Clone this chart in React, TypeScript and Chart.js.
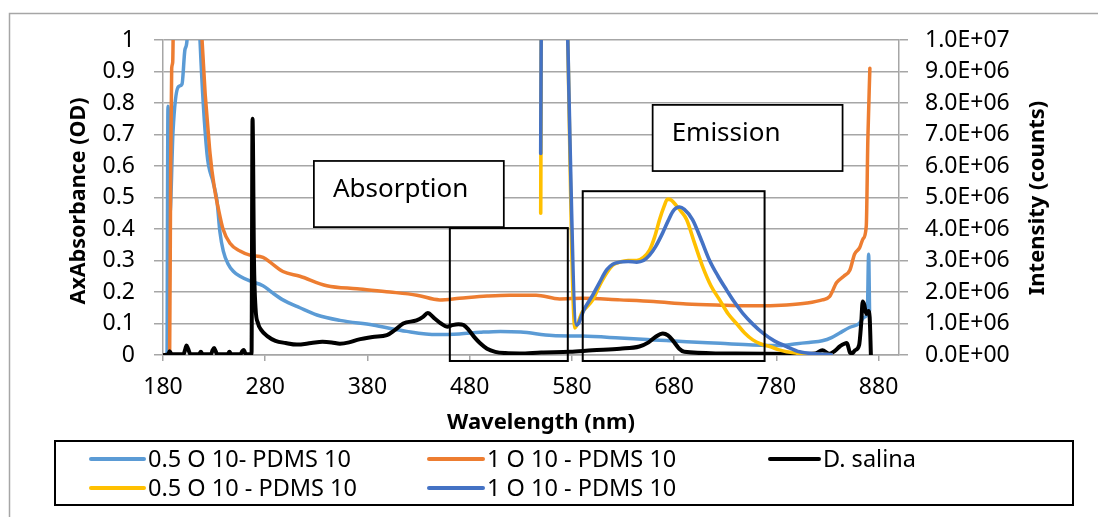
import React, { useEffect, useRef } from 'react';
import { Chart, registerables } from 'chart.js';

Chart.register(...registerables);

// ---------- data ----------
const xTicks = [180, 280, 380, 480, 580, 680, 780, 880];

// 0.5 O 10- PDMS 10 (absorbance, OD)
const absLowWl = [184, 184.9, 186.8, 189.8, 194.7, 198.6, 201.5, 203.5, 206, 213, 216.2, 223, 228.9, 232.8, 235.7, 239, 243.5, 249, 255.3, 265, 277.8, 286, 297.3, 313.9, 330.6, 353, 385.3, 418.5, 447.9, 470, 490, 510, 530, 561, 590, 627, 660, 692, 725, 757, 783, 800, 812, 825, 834, 842, 852, 861, 866, 869, 870.3, 871.2];
const absLowOD = [0, 0.79, 0.45, 0.71, 0.85, 0.86, 0.97, 1.0, 1.3, 1.3, 1.0, 0.64, 0.55, 0.49, 0.39, 0.33, 0.29, 0.265, 0.25, 0.235, 0.22, 0.2, 0.175, 0.15, 0.127, 0.11, 0.095, 0.075, 0.065, 0.067, 0.072, 0.075, 0.073, 0.062, 0.06, 0.054, 0.048, 0.042, 0.037, 0.032, 0.03, 0.036, 0.04, 0.045, 0.055, 0.07, 0.088, 0.1, 0.12, 0.133, 0.32, 0.14];

// 1 O 10 - PDMS 10 (absorbance, OD)
const absHighWl = [180, 186.5, 187.5, 188.5, 189.5, 191, 215, 218.2, 226, 230.8, 233.8, 238.7, 245.5, 255.3, 265, 277.8, 286.6, 297.3, 313.9, 340.3, 369.7, 402, 428.3, 450.8, 470, 497, 519, 545, 568, 590, 627, 660, 692, 730, 757, 790, 810, 825, 832, 839, 846, 852, 856.5, 861.4, 865, 868, 869.5, 871.5];
const absHighOD = [0, 0, 0.6, 0.91, 0.93, 1.3, 1.3, 1.0, 0.64, 0.52, 0.47, 0.4, 0.355, 0.33, 0.317, 0.31, 0.29, 0.265, 0.25, 0.22, 0.21, 0.2, 0.19, 0.175, 0.18, 0.187, 0.19, 0.19, 0.178, 0.18, 0.175, 0.17, 0.162, 0.158, 0.156, 0.159, 0.165, 0.175, 0.185, 0.23, 0.25, 0.27, 0.32, 0.34, 0.37, 0.41, 0.68, 0.91];

// D. salina (absorbance, OD)
const salinaWl = [181, 185, 186.5, 188, 190, 200, 201.5, 203, 204.5, 207, 215, 217, 219, 227, 228.5, 230, 231.5, 233, 243, 245, 247, 256, 257.5, 259, 261, 266.6, 267.6, 269, 270.5, 273, 276, 282, 290, 300, 311, 325, 336, 345, 353, 362, 370, 385, 399, 407, 415, 428, 434, 439, 445, 452, 458, 463, 469, 474, 479, 485, 490, 497, 505, 515, 529, 550, 578, 600, 627, 646, 655, 662, 669, 674, 679, 685, 690, 725, 800, 818, 825, 832, 837, 842, 849, 852, 854, 857, 861, 863, 864.5, 866, 868, 870, 871.3, 872.5];
const salinaOD = [0, 0.002, 0.012, 0.004, 0.002, 0.002, 0.015, 0.03, 0.02, 0.002, 0.002, 0.01, 0.002, 0.003, 0.015, 0.022, 0.012, 0.002, 0.002, 0.01, 0.002, 0.003, 0.012, 0.016, 0.002, 0.002, 0.75, 0.3, 0.15, 0.1, 0.08, 0.06, 0.045, 0.038, 0.033, 0.038, 0.042, 0.04, 0.036, 0.04, 0.048, 0.057, 0.063, 0.08, 0.1, 0.11, 0.12, 0.133, 0.118, 0.1, 0.09, 0.095, 0.098, 0.095, 0.08, 0.055, 0.038, 0.02, 0.01, 0.006, 0.005, 0.008, 0.01, 0.015, 0.02, 0.027, 0.04, 0.058, 0.068, 0.062, 0.045, 0.02, 0.01, 0.005, 0.003, 0.005, 0.015, 0.004, 0.012, 0.027, 0.038, 0.008, 0.005, 0.015, 0.032, 0.1, 0.17, 0.16, 0.13, 0.14, 0.12, 0];

// 0.5 O 10 - PDMS 10 (emission, counts)
const emLowWl = [549.5, 550.5, 574.5, 576, 583, 590, 600.4, 607, 614, 620, 626.8, 635, 643.4, 650, 656, 661, 665.8, 670, 673.6, 677, 682, 687, 692.2, 700, 708, 716, 724.5, 733, 741, 749, 757, 765, 773.5, 782, 790, 800, 815, 834];
const emLowCounts = [4.5e6, 13e6, 13e6, 10e6, 0.86e6, 1.35e6, 1.75e6, 2.2e6, 2.6e6, 2.85e6, 2.95e6, 3.0e6, 3.0e6, 3.1e6, 3.33e6, 3.75e6, 4.3e6, 4.7e6, 4.95e6, 4.92e6, 4.75e6, 4.55e6, 4.3e6, 3.55e6, 2.8e6, 2.2e6, 1.75e6, 1.3e6, 1.0e6, 0.7e6, 0.48e6, 0.35e6, 0.27e6, 0.17e6, 0.1e6, 0.06e6, 0.03e6, 0.01e6];

// 1 O 10 - PDMS 10 (emission, counts)
const emHighWl = [549.5, 550.5, 574.5, 576, 584.7, 592, 600.4, 607, 614, 620, 626.8, 635, 643.4, 650, 656, 662, 668.7, 674, 678.6, 682, 685.4, 690, 698, 706, 714.7, 723, 731.4, 739, 747, 757, 766.6, 778, 790, 802.7, 818, 834];
const emHighCounts = [6.4e6, 13e6, 13e6, 10e6, 0.95e6, 1.45e6, 1.9e6, 2.3e6, 2.7e6, 2.88e6, 2.95e6, 2.97e6, 2.95e6, 3.0e6, 3.17e6, 3.45e6, 3.87e6, 4.25e6, 4.55e6, 4.67e6, 4.7e6, 4.62e6, 4.3e6, 3.7e6, 3.0e6, 2.5e6, 2.06e6, 1.68e6, 1.33e6, 0.98e6, 0.7e6, 0.45e6, 0.27e6, 0.1e6, 0.04e6, 0.01e6];

const seriesLabels = ['0.5 O 10- PDMS 10', '1 O 10 - PDMS 10', 'D. salina', '0.5 O 10 - PDMS 10', '1 O 10 - PDMS 10'];

// annotation boxes in data coordinates: [x0, x1, y0(OD), y1(OD)]
const absorptionLabelBox = [327.6, 513.4, 0.406, 0.616];
const emissionLabelBox = [659, 844.8, 0.584, 0.794];
const absorptionFrame = [460.6, 576, -0.019, 0.403];
const emissionFrame = [590.6, 768.5, -0.019, 0.52];
const annotationTexts = ['Absorption', 'Emission'];

// ---------- styling ----------
const GRID = '#a6a6a6';
const COLORS = ['#5B9BD5', '#ED7D31', '#000000', '#FFC000', '#4472C4'];
const FONT = "'Noto Sans', sans-serif";

function pts(xs: number[], ys: number[]) {
  return xs.map((x, i) => ({ x, y: ys[i] }));
}

function sci(v: number) {
  const [m, e] = v.toExponential(1).split('e');
  const n = parseInt(e, 10);
  return `${m.toUpperCase()}E${n < 0 ? '-' : '+'}${String(Math.abs(n)).padStart(2, '0')}`;
}

const decorPlugin = {
  id: 'decor',
  afterDraw(chart: any) {
    const ctx: CanvasRenderingContext2D = chart.ctx;
    const xs = chart.scales.x;
    const ys = chart.scales.y;
    const W = chart.width;
    const H = chart.height;
    ctx.save();

    // outer chart border (partially visible)
    ctx.strokeStyle = GRID;
    ctx.lineWidth = 1.5;
    ctx.beginPath();
    ctx.moveTo(9.5, H);
    ctx.lineTo(9.5, 13.5);
    ctx.lineTo(W, 13.5);
    ctx.stroke();

    const rectOf = (b: number[]) => {
      const l = xs.getPixelForValue(b[0]);
      const r = xs.getPixelForValue(b[1]);
      const t = ys.getPixelForValue(b[3]);
      const bt = ys.getPixelForValue(b[2]);
      return [l, t, r - l, bt - t];
    };

    // frames (transparent)
    ctx.strokeStyle = '#000';
    ctx.lineWidth = 2;
    for (const f of [absorptionFrame, emissionFrame]) {
      const [l, t, w, h] = rectOf(f);
      ctx.strokeRect(l, t, w, h);
    }

    // label boxes
    const boxes = [absorptionLabelBox, emissionLabelBox];
    ctx.font = `26px ${FONT}`;
    ctx.textBaseline = 'middle';
    ctx.textAlign = 'left';
    boxes.forEach((b, i) => {
      const [l, t, w, h] = rectOf(b);
      ctx.fillStyle = '#fff';
      ctx.fillRect(l, t, w, h);
      ctx.lineWidth = 1.75;
      ctx.strokeStyle = '#000';
      ctx.strokeRect(l, t, w, h);
      ctx.fillStyle = '#000';
      ctx.fillText(annotationTexts[i], l + 19, t + 29);
    });

    // axis titles
    ctx.fillStyle = '#000';
    ctx.textAlign = 'center';
    ctx.textBaseline = 'middle';
    ctx.font = `bold 22px ${FONT}`;
    ctx.fillText('Wavelength (nm)', 541, 423);

    ctx.save();
    ctx.translate(79, 201);
    ctx.rotate(-Math.PI / 2);
    ctx.font = `bold 21.5px ${FONT}`;
    ctx.fillText('AxAbsorbance (OD)', 0, 0);
    ctx.restore();

    ctx.save();
    ctx.translate(1038, 198);
    ctx.rotate(-Math.PI / 2);
    ctx.font = `bold 22px ${FONT}`;
    ctx.fillText('Intensity (counts)', 0, 0);
    ctx.restore();

    // legend
    ctx.lineWidth = 2;
    ctx.strokeStyle = '#000';
    ctx.strokeRect(55, 441, 1018, 64);
    const colStart = [91, 429, 770];
    const colEnd = [144, 483, 819];
    const rowY = [459, 488];
    ctx.font = `23.5px ${FONT}`;
    ctx.textAlign = 'left';
    ctx.textBaseline = 'middle';
    chart.data.datasets.forEach((ds: any, i: number) => {
      const c = i % 3;
      const r = Math.floor(i / 3);
      ctx.strokeStyle = ds.borderColor;
      ctx.lineWidth = 4;
      ctx.lineCap = 'round';
      ctx.beginPath();
      ctx.moveTo(colStart[c], rowY[r]);
      ctx.lineTo(colEnd[c], rowY[r]);
      ctx.stroke();
      ctx.fillStyle = '#000';
      ctx.fillText(ds.label, colEnd[c] + 4, rowY[r] + 1);
    });

    ctx.restore();
  },
};

export default function App() {
  const ref = useRef<HTMLCanvasElement>(null);

  useEffect(() => {
    if (!ref.current) return;
    Chart.defaults.font.family = FONT;
    const line = (i: number, data: any[], axis: string, width: number, order: number) => ({
      label: seriesLabels[i],
      data,
      yAxisID: axis,
      borderColor: COLORS[i],
      backgroundColor: COLORS[i],
      borderWidth: width,
      pointRadius: 0,
      fill: false,
      cubicInterpolationMode: 'monotone' as const,
      order,
    });
    const chart = new Chart(ref.current, {
      type: 'line',
      data: {
        datasets: [
          line(0, pts(absLowWl, absLowOD), 'y', 3.5, 5),
          line(1, pts(absHighWl, absHighOD), 'y', 3.5, 4),
          line(2, pts(salinaWl, salinaOD), 'y', 4, 3),
          line(3, pts(emLowWl, emLowCounts), 'y2', 3.6, 2),
          line(4, pts(emHighWl, emHighCounts), 'y2', 3.6, 1),
        ],
      },
      options: {
        responsive: false,
        animation: false,
        layout: { padding: { top: 40, left: 0, right: 0, bottom: 0 } },
        plugins: { legend: { display: false }, tooltip: { enabled: false } },
        elements: { line: { borderJoinStyle: 'round', borderCapStyle: 'round' } },
        scales: {
          x: {
            type: 'linear',
            min: 180,
            max: 900,
            afterBuildTicks: (s: any) => {
              s.ticks = xTicks.map((value) => ({ value }));
            },
            afterFit: (s: any) => {
              s.height = 162;
            },
            grid: { drawOnChartArea: false, drawTicks: true, tickLength: 6, color: GRID, lineWidth: 1.5 },
            border: { display: true, color: GRID, width: 1.5 },
            ticks: { font: { size: 23 }, color: '#000', padding: 13, maxRotation: 0, autoSkip: false },
          },
          y: {
            position: 'left',
            min: 0,
            max: 1,
            afterFit: (s: any) => {
              s.width = 163;
            },
            grid: { color: GRID, lineWidth: 1.5, tickLength: 9 },
            border: { display: true, color: GRID, width: 1.5 },
            ticks: {
              stepSize: 0.1,
              font: { size: 23 },
              color: '#000',
              padding: 19,
              callback: (v: any) => String(Number(Number(v).toFixed(1))),
            },
          },
          y2: {
            position: 'right',
            min: 0,
            max: 1e7,
            afterFit: (s: any) => {
              s.width = 199;
            },
            grid: { drawOnChartArea: false, color: GRID, lineWidth: 1.5, tickLength: 9 },
            border: { display: true, color: GRID, width: 1.5 },
            ticks: {
              stepSize: 1e6,
              font: { size: 23 },
              color: '#000',
              padding: 17,
              callback: (v: any) => sci(Number(v)),
            },
          },
        },
      },
      plugins: [decorPlugin],
    });
    return () => chart.destroy();
  }, []);

  return (
    <div style={{ position: 'absolute', left: 0, top: 0, width: 1098, height: 517, background: '#fff' }}>
      <canvas ref={ref} width={1098} height={517} style={{ display: 'block', width: 1098, height: 517 }} />
    </div>
  );
}
